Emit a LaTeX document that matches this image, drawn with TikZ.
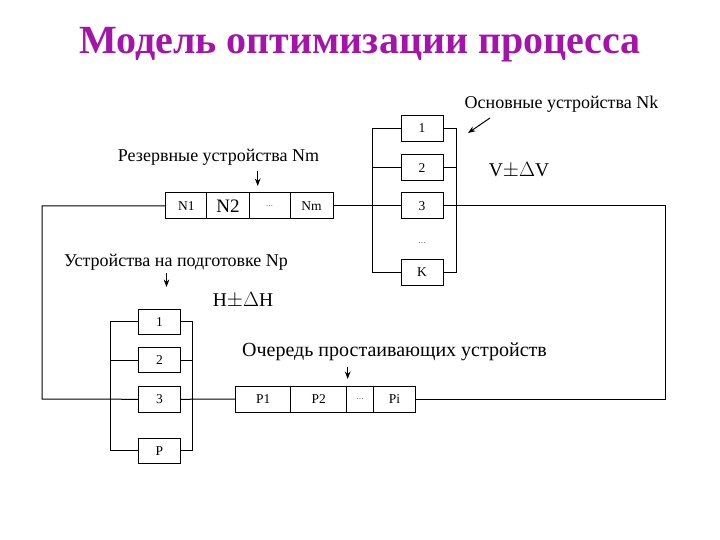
\documentclass[tikz,border=0pt]{standalone}
\usepackage{fontspec}
\setmainfont{Liberation Serif}
\usetikzlibrary{arrows.meta}
\definecolor{titlemag}{RGB}{165,20,170}

\begin{document}
\begin{tikzpicture}[x=1pt,y=-1pt,>=Stealth,line width=1pt,
  cell/.style={draw,inner sep=0pt,minimum height=26pt,font=\fontsize{13.5}{13.5}\selectfont},
  dev/.style={cell,minimum width=42pt},
  lbl/.style={inner sep=0pt,font=\fontsize{18}{18}\selectfont},
  big/.style={inner sep=0pt,font=\fontsize{19.5}{19.5}\selectfont},
  dots/.style={inner sep=0pt,font=\fontsize{7}{7}\selectfont}]
  \useasboundingbox (0,0) rectangle (720,540);

  \node[inner sep=0pt,text=titlemag,font=\fontsize{40}{40}\selectfont\bfseries] (title) at (360,45) {Модель оптимизации процесса};

  % main devices
  \node[dev] (k1) at (422,128.5) {1};
  \node[dev] (k2) at (422,168) {2};
  \node[dev] (k3) at (422,206) {3};
  \node[dots] (kdots) at (422,243) {\dots};
  \node[dev] (kk) at (422,272) {K};
  \draw (k1.west) -- ++(-28,0) |- (kk.west);
  \draw (k2.west) -- ++(-28,0);
  \draw (k1.east) -- ++(13,0) |- (kk.east);
  \draw (k2.east) -- ++(13,0);
  \node[lbl] (main) at (561.5,104) {Основные устройства Nk};
  \draw[->] (490,118) -- (468,133);
  \node[big] (dv) at (519,170) {V$\pm\Delta$V};

  % reserve
  \node[cell,minimum width=41pt] (n1) at (186.3,206) {N1};
  \node[cell,minimum width=42.6pt,font=\fontsize{19}{19}\selectfont] (n2) at (228,206) {N2};
  \node[cell,minimum width=40.7pt,font=\fontsize{7}{7}\selectfont] (ndots) at (269.7,206) {\dots};
  \node[cell,minimum width=43pt] (nm) at (311.5,206) {Nm};
  \node[lbl] (res) at (218.5,157) {Резервные устройства Nm};
  \draw[->] (257.7,171) -- (257.7,186);

  % preparation
  \node[lbl] (prep) at (176,262) {Устройства на подготовке Np};
  \draw[->] (166.5,273) -- (166.5,287);
  \node[big] (dh) at (243,300) {H$\pm\Delta$H};
  \node[dev,minimum height=25pt] (p1) at (159.5,321.7) {1};
  \node[dev,minimum height=25pt] (p2) at (159.5,360) {2};
  \node[dev,minimum height=26pt] (p3) at (159.5,399.3) {3};
  \node[dev,minimum height=25pt] (pp) at (159.5,450.8) {P};
  \draw (p1.west) -- ++(-27.6,0) |- (pp.west);
  \draw (p2.west) -- ++(-27.6,0);
  \draw (p1.east) -- ++(11.6,0) |- (pp.east);
  \draw (p2.east) -- ++(11.6,0);

  % idle queue
  \node[cell,minimum width=55pt] (q1) at (263.2,399) {P1};
  \node[cell,minimum width=56pt] (q2) at (318.7,399) {P2};
  \node[cell,minimum width=26.6pt,font=\fontsize{7}{7}\selectfont] (qdots) at (360,399) {\dots};
  \node[cell,minimum width=42.4pt] (qi) at (394.5,399) {Pi};
  \node[lbl,font=\fontsize{20}{20}\selectfont] (queue) at (394.5,352) {Очередь простаивающих устройств};
  \draw[->] (347.7,367) -- (347.7,379);

  % loop
  \coordinate (rt) at (665,206);
  \coordinate (rb) at (665,399);
  \coordinate (lb) at (42,399);
  \coordinate (lt) at (42,206);
  \draw (nm.east) -- (k3.west);
  \draw (k3.east) -- (rt) -- (rb) -- (qi.east);
  \draw (q1.west) -- (p3.east);
  \draw (p3.west) -- (lb) -- (lt) -- (n1.west);
\end{tikzpicture}
\end{document}
